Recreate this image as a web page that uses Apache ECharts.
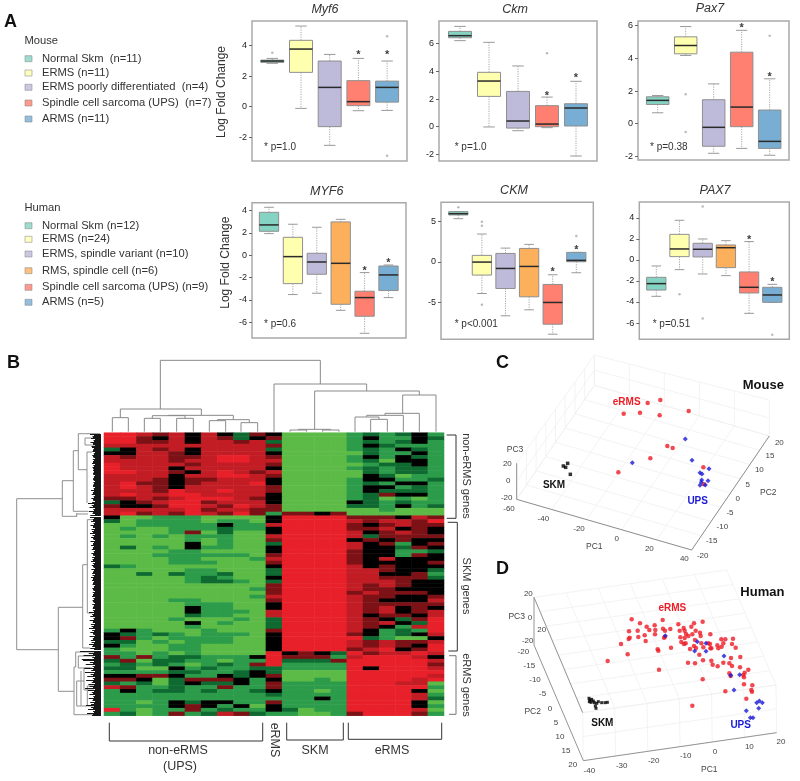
<!DOCTYPE html>
<html><head><meta charset="utf-8">
<style>html,body{margin:0;padding:0;background:#fff}#c{width:800px;height:781px}</style>
<script src="https://cdn.jsdelivr.net/npm/echarts@6/dist/echarts.min.js"></script>
</head><body><div id="c"></div>
<script>
/* ---------- A: box plot values: [low whisker, q1, median, q3, high whisker] ---------- */
const myf6Mouse = [[2.83,2.89,2.98,3.04,3.15],[-0.11,2.24,3.76,4.33,5.26],[-2.52,-1.3,1.26,2.98,3.41],[-0.26,0.07,0.33,1.7,3.15],[-0.24,0.3,1.26,1.67,2.98]];
const myf6MouseOut = [[1,3.52],[5,4.6],[5,-3.2]];
const myf6MouseStar = [[4,3.52],[5,3.52]];
const ckmMouse = [[6.22,6.43,6.58,6.89,7.25],[-0.02,2.19,3.3,3.93,6.1],[-0.29,-0.1,0.41,2.55,4.39],[-0.07,0,0.19,1.52,2.14],[-2.12,0.05,1.35,1.66,3.28]];
const ckmMouseOut = [[4,5.3]];
const ckmMouseStar = [[4,2.33],[5,3.66]];
const pax7Mouse = [[0.67,1.18,1.43,1.65,1.73],[4.18,4.28,4.79,5.32,5.95],[-1.81,-1.38,-0.22,1.47,2.44],[-1.51,-0.18,1.02,4.38,5.72],[-1.93,-1.51,-1.08,0.84,2.75]];
const pax7MouseOut = [[2,1.81],[2,-0.51],[5,5.38]];
const pax7MouseStar = [[4,5.97],[5,2.96]];
const myf6Human = [[1.94,2.15,2.72,3.85,4.3],[-3.52,-2.54,-0.12,1.61,2.78],[-3.4,-1.7,-0.6,0.18,2.51],[-4.93,-4.39,-0.72,2.99,3.22],[-6.99,-5.46,-3.79,-3.22,-1.55],[-3.79,-3.16,-1.76,-0.96,-0.87]];
const myf6HumanOut = [];
const myf6HumanStar = [[5,-1.2],[6,-0.5]];
const ckmHuman = [[5.33,5.79,5.95,6.2,6.2],[-3.93,-1.65,-0.04,0.79,3.43],[-6.69,-3.31,-0.83,1.03,1.69],[-5.95,-4.34,-0.58,1.65,2.15],[-8.97,-7.73,-5.04,-2.81,-1.61],[-1.36,0,0.17,1.16,1.16]];
const ckmHumanOut = [[1,6.74],[2,4.96],[2,4.46],[2,-5.33],[6,3.18]];
const ckmHumanStar = [[5,-1.03],[6,1.65]];
const pax7Human = [[-3.46,-2.86,-2.25,-1.65,-0.57],[-0.92,0.32,1.05,2.44,3.78],[-1.33,0.29,1.02,1.59,2],[-1.49,-0.73,1.17,1.43,1.84],[-5.08,-3.14,-2.6,-1.14,1.75],[-4.03,-4.03,-3.33,-2.6,-2.32]];
const pax7HumanOut = [[2,-3.27],[3,5.08],[3,-5.56],[6,-7.11]];
const pax7HumanStar = [[5,2.12],[6,-1.9]];

const mouseLegend = ['Normal Skm  (n=11)','ERMS (n=11)','ERMS poorly differentiated  (n=4)','Spindle cell sarcoma (UPS)  (n=7)','ARMS (n=11)'];
const humanLegend = ['Normal Skm (n=12)','ERMS (n=24)','ERMS, spindle variant (n=10)','RMS, spindle cell (n=6)','Spindle cell sarcoma (UPS) (n=9)','ARMS (n=5)'];

/* ---------- B: expression level per sample, 0 bright green .. 3 black .. 6 bright red ---------- */
const nonErmsGeneRows = [
"6654535324 3 0000 121231","6643535423 4 0000 131132","6644535545 2 0000 121231","5555555555 4 0000 132111",
"2354535555 2 0000 121321","3355435555 3 0000 021131","5455445665 4 0000 131321","5555455665 5 0000 120331",
"6555545555 4 0000 012231","6555355555 3 0000 121221","6655435654 5 0000 021221","5555355665 4 0000 032011",
"5554344555 3 0000 133112","5644345556 3 0000 121331","5654355555 4 0000 133121","5554655655 4 0000 132221",
"5655665555 3 0000 124331","4454566654 3 0000 120101","2345664555 3 0000 321211","4334665465 4 0000 221312",
"5555564554 4 0000 001000"];
const skmGeneRows = [
"5645465464 1 4434 000000","3001110000 3 6666 444354","2011110110 3 6666 545546","0011111311 5 6666 434544",
"0100111211 3 6666 445343","0000140200 3 6666 534543","0101011100 5 6666 524444","0000010100 4 6666 343433",
"0000030100 2 6666 534134","0201031100 3 6666 533243","0000110000 3 6666 433112","0001111110 4 6666 433143",
"0000110001 5 6666 435333","0000111000 4 6666 433334","2100000000 3 6666 534333","0000011000 2 6666 554332",
"0020211200 2 6666 553341","0000012100 3 6666 554442","0000012210 2 6666 555433","0000000000 4 6666 545433",
"0000000001 4 6666 544333","0000000000 4 6666 454443","0000000001 5 6666 544334","0000110000 4 6666 543335",
"0000011100 3 6666 544444","0000031100 3 6666 545343","0000031110 5 6666 545345","0000021100 5 6666 534435",
"0000100010 2 6666 543246","0000030100 2 6666 545326","0000010000 2 6666 543156","1310001000 4 6666 531216",
"3212101110 3 6666 431235","3410111100 3 6666 621003","2201011100 3 6666 545445","3100110000 3 6666 545436",
"1000110000 3 6666 456346"];
const ermsGeneRows = [
"1101010000 6 3432 645565","4141221113 6 4441 566653","2402211011 6 2224 666665","1212101214 6 1111 666664",
"2200312112 2 1111 636665","1111221123 2 0000 666666","3344311323 4 0000 666665","4430244431 3 0010 666656",
"2120232231 4 1111 666550","5411211411 4 1111 666661","1312212112 3 1101 666630","1111111111 2 1111 666651",
"1111111111 1 1131 666652","1101323311 4 1111 666630","1111343130 3 1111 666631","6101141211 3 2011 666650",
"1201412542 1 1001 466641"];

/* Column dendrogram merges: [xLeft, xRight, yTop, yLeftEnd, yRightEnd], in a 3x view of the panel */
const colMerges = [[481,961,31,177,102],[361,604,177,203,196],[337,385,203,245,245],[505,700,196,197,209],[457,555,197,205,205],
[433,481,205,245,245],[530,580,205,245,245],[652,748,209,212,218],[628,677,212,245,245],[723,773,218,245,245],
[822,1100,102,245,123],[944,1258,123,238,135],[895,992,238,240,240],[870,920,240,245,245],[968,1017,240,245,245],
[1208,1308,135,190,245],[1155,1258,190,196,245],[1100,1210,196,201,245],[1065,1137,201,245,208],[1112,1162,208,245,245]];
/* Row dendrogram trunk: [x1,y1,x2,y2] */
const rowTrunk = [[16.7,498.7,16.7,649.7],[16.7,498.7,62.3,498.7],[62.3,480.7,62.3,516.3],[62.3,480.7,73.3,480.7],[62.3,516.3,76.7,516.3],
[73.3,450.7,73.3,511.3],[73.3,450.7,78.3,450.7],[73.3,511.3,88,511.3],[78.3,433.7,78.3,469.7],[78.3,433.7,100,433.7],[78.3,469.7,87,469.7],
[87,452,87,503],[87,452,92,452],[76.7,513,76.7,517],[76.7,514,88,514],[85,438,85,445],[85,438,95,438],[85,445,96,445],
[16.7,649.7,58.3,649.7],[58.3,607.3,58.3,691.3],[58.3,607.3,82.7,607.3],[82.7,564.7,82.7,648],[82.7,564.7,87.3,564.7],[82.7,648,90,648],
[87.3,519.7,87.3,613],[87.3,519.7,92,519.7],[87.3,613,92,613],[58.3,691.3,74,691.3],[74,667,74,714.7],[74,667,75.7,667],[75.7,652,75.7,667],
[75.7,652,101,652],[74,714.7,101,714.7],[78.3,656,78.3,668],[78.3,656,94,656],[78.3,668,90,668],[76.7,681,76.7,706],[76.7,681,84,681],[76.7,706,87,706],
[81,671,81,706],[84,668,84,690],[84,668,92,668],[84,690,94,690],[87.3,686,87.3,706],[87.3,686,95,686],[87.3,706,95,706]];
/* Dense leaf bands: [yStart,yEnd,xStart] */
const rowLeafBands = [[434,447,90],[447,470,92],[470,490,93],[490,503,91],[503,516,88],[517,545,90],[545,580,91],[580,612,92],[612,650,89],
[651,660,80],[660,672,83],[672,690,85],[690,705,88],[705,716,86]];

/* ---------- C: mouse PCA, points on the picture plane of the 3D plot ---------- */
const mouseErms = [[473,159],[511,150],[596,183],[401,191],[450,188],[509,196],[532,288],[548,294],[481,325],[385,367],[640,352],[642,403]];
const mouseUps = [[586,267],[427,338],[606,331],[657,356],[630,368],[636,372],[635,390],[654,392],[630,406],[646,405],[634,397]];
const mouseSkm = [[233,340],[220,348],[227,352],[241,373]];
/* ---------- D: human PCA ---------- */
const humanErms = [[425,178],[450,190],[494,196],[518,180],[565,193],[612,190],[638,185],[470,200],[478,210],[443,212],[417,214],[419,233],[416,237],[464,226],[445,231],[467,243],[393,252],[496,210],[495,223],[519,206],[525,212],[541,207],[569,212],[581,204],[604,200],[584,212],[588,222],[607,223],[617,212],[630,218],[661,223],[525,230],[522,233],[571,232],[584,234],[595,228],[574,246],[582,252],[587,250],[615,240],[632,228],[634,250],[612,258],[600,267],[618,264],[640,262],[655,250],[660,252],[664,265],[682,256],[685,265],[700,250],[706,238],[694,238],[729,236],[726,252],[737,263],[695,260],[503,268],[505,272],[543,263],[413,283],[353,303],[507,329],[628,284],[594,308],[615,310],[639,301],[664,302],[668,314],[683,319],[700,308],[723,294],[718,310],[751,291],[726,318],[750,322],[775,329],[764,338],[718,340],[760,345],[762,352],[638,358],[722,348],[787,376],[762,373],[784,390],[786,395],[706,394],[769,416],[607,437],[661,265]];
const humanUps = [[526,227],[622,245],[648,250],[614,273],[648,274],[702,288],[722,346],[749,344],[732,390],[769,452],[781,473],[789,473],[800,428],[808,423],[817,428],[806,445]];
const humanSkm = [[297,415],[300,420],[303,427],[310,423],[313,428],[320,430],[316,438],[318,445],[325,425],[335,428],[345,428],[352,427],[298,425],[305,418]];

/* ---------- styling and layout ---------- */
const FONT = '"Liberation Sans", Arial, sans-serif';
const MOUSE_COL = ['#85D3C3','#FFFFB0','#BEBADA','#FF7F70','#78AED3'];
const HUMAN_COL = ['#85D3C3','#FFFFB0','#BEBADA','#FDB05C','#FF7F70','#78AED3'];
const panels = [
 {title:'Myf6',tx:325,ty:10,note:'* p=1.0',nx:264,ny:147.7,l:252,r:407,t:21,b:161,y0:5.59,y1:-3.54,cx:272.3,dx:28.7,w:23,ticks:[-2,0,2,4],box:myf6Mouse,out:myf6MouseOut,star:myf6MouseStar,col:MOUSE_COL},
 {title:'Ckm',tx:515,ty:10,note:'* p=1.0',nx:454.7,ny:147,l:439,r:597,t:21,b:161,y0:7.64,y1:-2.48,cx:460,dx:29,w:23,ticks:[-2,0,2,4,6],box:ckmMouse,out:ckmMouseOut,star:ckmMouseStar,col:MOUSE_COL},
 {title:'Pax7',tx:710,ty:9,note:'* p=0.38',nx:650,ny:147,l:638,r:789,t:21,b:160,y0:6.29,y1:-2.22,cx:657.7,dx:28,w:22.5,ticks:[-2,0,2,4,6],box:pax7Mouse,out:pax7MouseOut,star:pax7MouseStar,col:MOUSE_COL},
 {title:'MYF6',tx:326.7,ty:192,note:'* p=0.6',nx:264,ny:324.7,l:252,r:406,t:202.7,b:338,y0:4.71,y1:-7.41,cx:269,dx:23.9,w:19.3,ticks:[-6,-4,-2,0,2,4],box:myf6Human,out:myf6HumanOut,star:myf6HumanStar,col:HUMAN_COL},
 {title:'CKM',tx:514,ty:191,note:'* p<0.001',nx:454.7,ny:324.7,l:441,r:593.3,t:202.3,b:339.3,y0:7.36,y1:-9.6,cx:458.3,dx:23.6,w:19.3,ticks:[-5,0,5],box:ckmHuman,out:ckmHumanOut,star:ckmHumanStar,col:HUMAN_COL},
 {title:'PAX7',tx:715,ty:191,note:'* p=0.51',nx:652.7,ny:324.7,l:639.3,r:789.3,t:202,b:339.3,y0:5.52,y1:-7.55,cx:656.3,dx:23.2,w:19.3,ticks:[-6,-4,-2,0,2,4],box:pax7Human,out:pax7HumanOut,star:pax7HumanStar,col:HUMAN_COL}
];

const grids=[], xAxes=[], yAxes=[], series=[], graphics=[];
function addGrid(g,x,y){grids.push(g);xAxes.push(Object.assign({gridIndex:grids.length-1},x));yAxes.push(Object.assign({gridIndex:grids.length-1},y));return grids.length-1;}
function txt(s,x,y,o){o=o||{};graphics.push({type:'text',x:x,y:y,rotation:o.rot||0,silent:true,z:50,style:{text:s,fill:o.color||'#333',font:(o.style||'')+' '+(o.weight||'')+' '+(o.size||11)+'px '+FONT,align:o.align||'left',verticalAlign:'middle'}});}
function segs(g,list,color,width,z){
  series.push({type:'custom',coordinateSystem:'cartesian2d',xAxisIndex:g,yAxisIndex:g,silent:true,animation:false,z:z||3,progressive:0,clip:false,
    encode:{x:[0,2],y:[1,3]},data:list,
    renderItem:function(p,api){const a=api.coord([api.value(0),api.value(1)]),b=api.coord([api.value(2),api.value(3)]);
      return {type:'line',shape:{x1:a[0],y1:a[1],x2:b[0],y2:b[1]},style:{stroke:color,lineWidth:width,fill:null}};}});
}
function plain(x0,x1,y0,y1){return [{type:'value',show:false,min:x0,max:x1},{type:'value',show:false,inverse:true,min:y0,max:y1}];}

const OV = addGrid({left:0,top:0,width:800,height:781,show:false},...plain(0,800,0,781));

/* A: box plots */
panels.forEach(function(p){
  const xmin=1-(p.cx-p.l)/p.dx, xmax=1+(p.r-p.cx)/p.dx;
  const g=addGrid({left:p.l,top:p.t,width:p.r-p.l,height:p.b-p.t,show:true,borderColor:'#a9a9a9',borderWidth:1.5,backgroundColor:'#fff'},
    {type:'value',show:false,min:xmin,max:xmax},
    {type:'value',min:p.y1,max:p.y0,splitLine:{show:false},axisLine:{show:false},
     axisTick:{show:true,length:3,customValues:p.ticks,lineStyle:{color:'#666'}},
     axisLabel:{show:true,customValues:p.ticks,fontSize:9,color:'#222',margin:5,fontFamily:FONT}});
  const bw=p.w/p.dx;
  series.push({type:'custom',xAxisIndex:g,yAxisIndex:g,silent:true,animation:false,progressive:0,z:3,
    encode:{x:0,y:[1,2,3,4,5]},
    data:p.box.map(function(b,i){return [i+1].concat(b,[i]);}),
    renderItem:function(_,api){
      const x=api.value(0),lo=api.value(1),q1=api.value(2),m=api.value(3),q3=api.value(4),hi=api.value(5),c=p.col[api.value(6)];
      const P=function(a,b){return api.coord([a,b]);};
      const w=api.size([bw,0])[0], cap=w*0.5;
      const xc=P(x,0)[0], yl=P(x,lo)[1], y1=P(x,q1)[1], ym=P(x,m)[1], y3=P(x,q3)[1], yh=P(x,hi)[1];
      const dot={stroke:'#a8a8a8',lineWidth:1,lineDash:[1.2,1.2],fill:null}, capS={stroke:'#999',lineWidth:1,fill:null};
      return {type:'group',children:[
        {type:'line',shape:{x1:xc,y1:y3,x2:xc,y2:yh},style:dot},
        {type:'line',shape:{x1:xc,y1:y1,x2:xc,y2:yl},style:dot},
        {type:'line',shape:{x1:xc-cap/2,y1:yh,x2:xc+cap/2,y2:yh},style:capS},
        {type:'line',shape:{x1:xc-cap/2,y1:yl,x2:xc+cap/2,y2:yl},style:capS},
        {type:'rect',shape:{x:xc-w/2,y:y3,width:w,height:y1-y3},style:{fill:c,stroke:'#8f8f8f',lineWidth:1}},
        {type:'line',shape:{x1:xc-w/2,y1:ym,x2:xc+w/2,y2:ym},style:{stroke:'#2a2a2a',lineWidth:1.5,fill:null}}
      ]};
    }});
  series.push({type:'scatter',xAxisIndex:g,yAxisIndex:g,silent:true,animation:false,z:4,symbolSize:2.5,itemStyle:{color:'#aaa'},data:p.out});
  series.push({type:'scatter',xAxisIndex:g,yAxisIndex:g,silent:true,animation:false,z:5,symbolSize:1,itemStyle:{color:'#111'},data:p.star,
    label:{show:true,position:'inside',formatter:'*',fontSize:11,fontWeight:'bold',color:'#111',fontFamily:FONT,offset:[0,2]}});
  txt(p.title,p.tx,p.ty,{style:'italic',size:12.5,align:'center',color:'#333'});
  txt(p.note,p.nx,p.ny,{size:10,color:'#333'});
});
txt('Log Fold Change',222,92,{rot:Math.PI/2,size:12,align:'center',color:'#333'});
txt('Log Fold Change',226,262.7,{rot:Math.PI/2,size:12,align:'center',color:'#333'});

/* legends */
const mouseY=[58.7,73,87.3,103,119], humanY=[225.7,239.3,254,270.7,287.3,302.3];
txt('Mouse',24.5,40.7,{size:11.2});
mouseLegend.forEach(function(s,i){txt(s,42,mouseY[i],{size:11.2});});
txt('Human',24.5,208.3,{size:11.2});
humanLegend.forEach(function(s,i){txt(s,42,humanY[i],{size:11.2});});
function swatches(labels,ys,cols){
  series.push({type:'scatter',xAxisIndex:OV,yAxisIndex:OV,silent:true,animation:false,symbol:'rect',symbolSize:[7,6],z:4,
    data:labels.map(function(_,i){return {value:[28.5,ys[i]],itemStyle:{color:cols[i],borderColor:'#8a8a8a',borderWidth:0.7}};})});
}
swatches(mouseLegend,mouseY,MOUSE_COL);
swatches(humanLegend,humanY,HUMAN_COL);

/* panel letters */
txt('A',4,22,{size:18,weight:'bold',color:'#111'});
txt('B',7,363,{size:18,weight:'bold',color:'#111'});
txt('C',496,363,{size:18,weight:'bold',color:'#111'});
txt('D',496,569,{size:18,weight:'bold',color:'#111'});

/* B: heat map */
const heatRows=nonErmsGeneRows.concat(skmGeneRows,ermsGeneRows).map(function(r){return r.replace(/ /g,'').split('').map(Number);});
const heatData=[];
heatRows.forEach(function(r,ri){r.forEach(function(v,ci){heatData.push([ci,ri,v]);});});
const HG=addGrid({left:104,top:432.7,width:340,height:283,show:false},
  {type:'category',show:false,data:heatRows[0].map(function(_,i){return 'S'+(i+1);})},
  {type:'category',show:false,inverse:true,data:heatRows.map(function(_,i){return 'G'+(i+1);})});
const heatIndex=series.length;
series.push({type:'heatmap',xAxisIndex:HG,yAxisIndex:HG,data:heatData,silent:true,animation:false,progressive:0,itemStyle:{borderWidth:0}});

/* dendrograms */
const colSegs=[];
colMerges.forEach(function(m){const X=function(v){return v/3;},Y=function(v){return 350+v/3;};
  colSegs.push([X(m[0]),Y(m[2]),X(m[1]),Y(m[2])],[X(m[0]),Y(m[2]),X(m[0]),Y(m[3])],[X(m[1]),Y(m[2]),X(m[1]),Y(m[4])]);});
segs(OV,colSegs,'#8a8a8a',1);
segs(OV,rowTrunk,'#8f8f8f',1);
const leaves=[], reach=[0,5,2,7,1,6,3,4];
rowLeafBands.forEach(function(b){let k=0;for(let y=b[0];y<b[1];y+=1){const t=k%2?93+(k%3):b[2]+reach[(k>>1)%8]*(94-b[2])/8;leaves.push([t,y+0.5,101,y+0.5]);k++;}});
segs(OV,leaves,'#151515',1);

/* brackets */
const bracketsDark=[[446.7,435,456,435],[456,435,456,518.3],[446.7,518.3,456,518.3],[447.7,522.3,457.3,522.3],[457.3,522.3,457.3,651],[448.3,651,457.3,651],
  [109.3,722.7,109.3,741],[109.3,741,262.7,741],[262.7,741,262.7,722.7],[286.7,722.7,286.7,740],[286.7,740,343.3,740],[343.3,740,343.3,722.7],
  [348.3,722.7,348.3,739.3],[348.3,739.3,441.7,739.3],[441.7,739.3,441.7,722.7]];
const bracketsGray=[[449,655.7,456,655.7],[456,655.7,456,714.3],[449,714.3,456,714.3]];
segs(OV,bracketsDark,'#333',1);
segs(OV,bracketsGray,'#777',1);
txt('non-eRMS genes',465.7,476,{rot:-Math.PI/2,size:11,align:'center'});
txt('SKM genes',465.7,586,{rot:-Math.PI/2,size:11,align:'center'});
txt('eRMS genes',465.7,685,{rot:-Math.PI/2,size:11,align:'center'});
txt('non-eRMS',178,751,{size:12.5,align:'center'});
txt('(UPS)',180,767,{size:12.5,align:'center'});
txt('eRMS',274,740,{rot:-Math.PI/2,size:12.5,align:'center'});
txt('SKM',315,751,{size:12.5,align:'center'});
txt('eRMS',392,751,{size:12.5,align:'center'});

/* 3D frames */
function lerp(a,b,t){return [a[0]+(b[0]-a[0])*t,a[1]+(b[1]-a[1])*t];}
function gridPlane(a,b,c,d,na,nb){
  const o=[];
  for(let i=0;i<=na;i++){const p=lerp(a,b,i/na),q=lerp(d,c,i/na);o.push([p[0],p[1],q[0],q[1]]);}
  for(let j=0;j<=nb;j++){const p=lerp(a,d,j/nb),q=lerp(b,c,j/nb);o.push([p[0],p[1],q[0],q[1]]);}
  return o;
}
function points(g,data,color,symbol,size){series.push({type:'scatter',xAxisIndex:g,yAxisIndex:g,silent:true,animation:false,z:6,symbol:symbol,symbolSize:size,itemStyle:{color:color},data:data});}

/* C */
const CG=addGrid({left:490,top:350,width:310,height:210,show:false},...plain(0,930,0,630));
const cF=[80,448],cG=[605,600],cH=[838,258],cB=[313,106],cFu=[80,340],cBu=[313,15],cHu=[838,150];
segs(CG,gridPlane(cF,cG,cH,cB,5,8).concat(gridPlane(cF,cB,cBu,cFu,8,2),gridPlane(cB,cH,cHu,cBu,5,2)),'#f0f0f0',0.8,1);
segs(CG,[[cF[0],cF[1],cG[0],cG[1]],[cG[0],cG[1],cH[0],cH[1]],[cF[0],cF[1],cFu[0],cFu[1]]],'#8f8f8f',1,2);
points(CG,mouseErms,'#ee1c25','circle',4.5);
points(CG,mouseUps,'#1a1ad6','diamond',5);
points(CG,mouseSkm,'#000','rect',3.5);
function cTxt(s,x,y,o){txt(s,490+x/3,350+y/3,Object.assign({align:'center',size:8,color:'#444'},o||{}));}
[['-60',57,475],['-40',160,505],['-20',267,535],['0',380,565],['20',478,597],['40',583,625],['20',868,277],['15',840,318],['10',808,360],['5',773,403],['0',743,446],['-5',720,488],['-10',697,530],['-15',665,572],['-20',638,617],['20',52,340],['0',55,391],['-20',50,443]].forEach(function(t){cTxt(t[0],t[1],t[2]);});
cTxt('PC1',313,590,{size:8.5});cTxt('PC2',835,428,{size:8.5});cTxt('PC3',75,300,{size:8.5});
cTxt('eRMS',410,158,{size:10,weight:'bold',color:'#ee1c25'});
cTxt('SKM',192,405,{size:10,weight:'bold',color:'#111'});
cTxt('UPS',623,454,{size:10,weight:'bold',color:'#1a1ad6'});
cTxt('Mouse',820,106,{size:13,weight:'bold',color:'#111'});

/* D */
const DG=addGrid({left:490,top:560,width:310,height:221,show:false},...plain(0,930,0,663));
const dP=[280,602],dQ=[860,518],dR=[132,255],dS=[712,171],dPu=[278,458],dQu=[858,375],dRu=[132,112],dSu=[710,30];
segs(DG,gridPlane(dPu,dQu,dSu,dRu,6,8).concat(gridPlane(dP,dQ,dQu,dPu,6,2)),'#f0f0f0',0.8,1);
segs(DG,[[dR[0],dR[1],dP[0],dP[1]],[dP[0],dP[1],dQ[0],dQ[1]],[dR[0],dR[1],dRu[0],dRu[1]],[dRu[0],dRu[1],dPu[0],dPu[1]]],'#949494',1,2);
points(DG,humanErms,'#ee1c25','circle',4.5);
points(DG,humanUps,'#1a1ad6','diamond',5);
points(DG,humanSkm,'#000','rect',3);
function dTxt(s,x,y,o){txt(s,490+x/3,560+y/3,Object.assign({align:'center',size:8,color:'#444'},o||{}));}
[['-20',100,275],['-15',118,317],['-10',135,358],['-5',158,402],['0',180,445],['5',198,487],['10',210,530],['15',228,572],['20',248,615],['-40',298,632],['-30',395,617],['-20',491,603],['-10',587,588],['0',675,574],['10',778,560],['20',873,545],['20',115,100],['0',120,172],['20',155,208],['-20',113,243]].forEach(function(t){dTxt(t[0],t[1],t[2]);});
dTxt('PC1',658,628,{size:8.5});dTxt('PC2',128,456,{size:8.5});dTxt('PC3',80,170,{size:8.5});
dTxt('eRMS',547,145,{size:10,weight:'bold',color:'#ee1c25'});
dTxt('SKM',337,490,{size:10,weight:'bold',color:'#111'});
dTxt('UPS',752,497,{size:10,weight:'bold',color:'#1a1ad6'});
dTxt('Human',817,98,{size:13,weight:'bold',color:'#111'});

const chart=echarts.init(document.getElementById('c'),null,{renderer:'canvas',width:800,height:781});
chart.setOption({
  animation:false,backgroundColor:'#fff',textStyle:{fontFamily:FONT},
  grid:grids,xAxis:xAxes,yAxis:yAxes,series:series,graphic:graphics,
  visualMap:{show:false,type:'continuous',min:0,max:6,seriesIndex:heatIndex,
    inRange:{color:['#5CBB46','#2C9B4A','#0E6A30','#000000','#7C1116','#C21C24','#E8202A']}}
});
</script></body></html>
